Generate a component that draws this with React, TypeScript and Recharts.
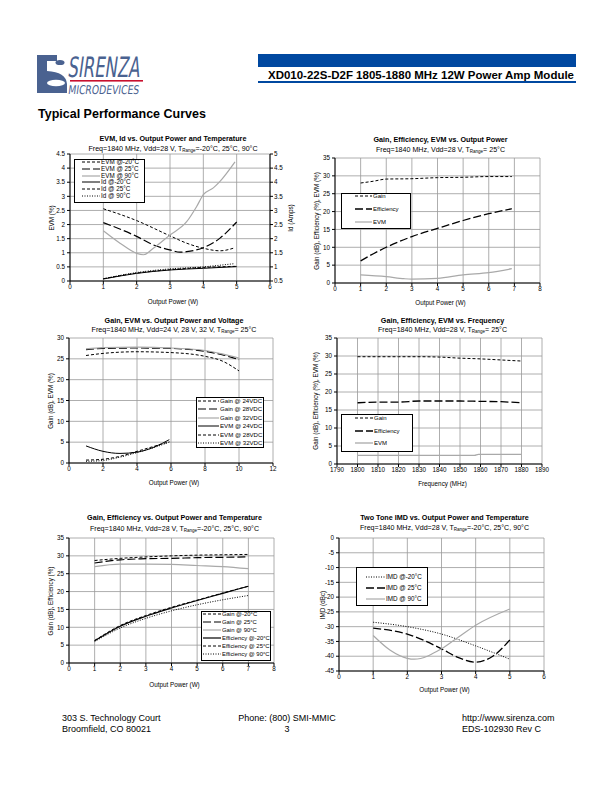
import { CartesianGrid, Line, LineChart, XAxis, YAxis } from "recharts";

const FONT = "'Liberation Sans', Arial, sans-serif";
const GRID = "#999999";
const GRAY = "#a9a9a9";

// ---- chart 1: EVM, Id vs output power and temperature ----
const evmM20X = [1, 2, 3, 3.5, 4, 4.5, 4.95];
const evmM20 = [2.56, 2.14, 1.6, 1.34, 1.16, 1.07, 1.18];
const evm25X = [1, 2, 2.5, 3, 3.3, 3.5, 4, 4.5, 5];
const evm25 = [2.07, 1.58, 1.28, 1.1, 1.02, 1.04, 1.18, 1.52, 2.09];
const evm90X = [1, 1.5, 2, 2.2, 2.5, 3, 3.5, 3.8, 4, 4.3, 4.5, 4.95];
const evm90 = [1.78, 1.34, 0.98, 0.93, 1.16, 1.63, 2.1, 2.64, 3.06, 3.3, 3.53, 4.22];
const idX = [1, 2, 3, 4, 5];
const idM20 = [0.57, 0.77, 0.89, 0.95, 1.01];
const id25 = [0.58, 0.78, 0.9, 0.98, 1.02];
const id90X = [1, 2, 3, 4, 4.5, 4.9];
const id90 = [0.58, 0.8, 0.93, 1.0, 1.06, 1.11];

// ---- chart 2: gain, efficiency, EVM vs output power ----
const p2X = [1, 1.5, 2, 3, 4, 5, 6, 6.9];
const p2Gain = [28, 28.5, 29.1, 29.2, 29.5, 29.6, 29.8, 29.8];
const p2Eff = [6.2, 8.2, 10, 13, 15.3, 17.5, 19.4, 20.8];
const p2EvmX = [1, 2, 2.7, 3, 4, 5, 6, 6.9];
const p2Evm = [2.3, 1.8, 1.2, 1.1, 1.3, 2.3, 2.9, 4];

// ---- chart 3: gain, EVM vs output power and voltage ----
const p3GainX = [1, 2, 4, 6, 8, 9, 10];
const gain24 = [25.8, 26.3, 26.7, 26.5, 25.6, 24.5, 22.1];
const gain28 = [27.2, 27.5, 27.6, 27.5, 26.8, 26, 24.8];
const gain32 = [27.4, 27.7, 27.8, 27.6, 27, 26.2, 25.2];
const p3EvmX = [1, 2, 3, 4, 5, 5.9];
const evm24 = [4.1, 2.8, 2.3, 2.6, 3.8, 5.6];
const evm28 = [0.7, 0.9, 1.6, 2.8, 4, 5.1];
const evm32 = [0.4, 0.6, 1.4, 2.5, 3.7, 5];

// ---- chart 4: gain, efficiency, EVM vs frequency ----
const freqX = [1800, 1810, 1820, 1830, 1840, 1850, 1860, 1870, 1880];
const p4Gain = [29.8, 29.8, 29.8, 29.8, 29.7, 29.4, 29.2, 28.9, 28.6];
const p4Eff = [17, 17.2, 17.2, 17.5, 17.5, 17.5, 17.4, 17.3, 17];
const p4EvmX = [1800, 1820, 1840, 1857, 1859, 1880];
const p4Evm = [2.4, 2.4, 2.4, 2.4, 2.7, 2.7];

// ---- chart 5: gain, efficiency vs output power and temperature ----
const p5X = [1, 2, 3, 4, 5, 6, 7];
const gainM20 = [28.7, 29.3, 29.7, 30, 30.2, 30.3, 30.4];
const gainT25 = [28, 28.9, 29.2, 29.3, 29.5, 29.6, 29.7];
const gainT90 = [27, 27.7, 27.7, 27.6, 27.3, 27, 26.4];
const effM20 = [6.2, 10.3, 13.1, 15.4, 17.5, 19.5, 21.5];
const effT25 = [6.3, 10.5, 13.3, 15.6, 17.6, 19.6, 21.5];
const effT90 = [6, 9.8, 12.5, 14.6, 16.3, 17.7, 18.9];

// ---- chart 6: two tone IMD ----
const imdM20X = [1, 2, 3, 4, 5];
const imdM20 = [-28.5, -30, -32.5, -36.5, -41];
const imd25X = [1, 2, 3, 3.5, 4, 4.5, 5];
const imd25 = [-30.5, -32.5, -37.5, -40.5, -42, -40, -34.5];
const imd90X = [1, 1.5, 2, 2.2, 3, 3.5, 4, 5];
const imd90 = [-33, -38, -40.7, -41, -37.5, -33.5, -29.5, -24];

const zip = (xs: number[], ys: number[]) => xs.map((x, i) => ({ x, y: ys[i] }));

const range = (a: number, b: number, s: number) => {
  const out: number[] = [];
  for (let v = a; v <= b + 1e-9; v += s) out.push(Math.round(v * 100) / 100);
  return out;
};

type Box = { x0: number; y0: number; x1: number; y1: number };
type Series = {
  name: string;
  xs: number[];
  ys: number[];
  stroke: string;
  dash?: string;
  width?: number;
  axis?: string;
};

const SHORT = "3 2";
const LONG = "8 3";
const DOT = "1 1.5";

function Legend({ x, y, w, h, rows, sample, textX, rowY, fs = 6 }: {
  x: number; y: number; w: number; h: number;
  rows: Series[]; sample: [number, number]; textX: number; rowY: number[]; fs?: number;
}) {
  return (
    <>
      <div style={{ position: "absolute", left: x, top: y, width: w, height: h, border: "1px solid #000", background: "#fff", boxSizing: "border-box", zIndex: 2 }} />
      <svg width={w} height={h} style={{ position: "absolute", left: x, top: y, overflow: "visible", zIndex: 3 }}>
        {rows.map((r, i) => (
          <g key={r.name}>
            <line x1={sample[0] - x} x2={sample[1] - x} y1={rowY[i] - y} y2={rowY[i] - y}
              stroke={r.stroke} strokeWidth={r.width ?? 1} strokeDasharray={r.dash} />
            <text x={textX - x} y={rowY[i] - y + 2} fontSize={fs} fontFamily={FONT}>{r.name}</text>
          </g>
        ))}
      </svg>
    </>
  );
}

function Panel({ box, xDomain, xTicks, yDomain, yTicks, y2Domain, y2Ticks, series, title, sub, xLabel, yLabel, y2Label, titleY, subY, xLabelY, yLabelX }: {
  box: Box; xDomain: [number, number]; xTicks: number[]; yDomain: [number, number]; yTicks: number[];
  y2Domain?: [number, number]; y2Ticks?: number[]; series: Series[];
  title: string; sub: React.ReactNode; xLabel: string; yLabel: string; y2Label?: string;
  titleY: number; subY: number; xLabelY: number; yLabelX: number;
}) {
  const LW = 28;
  const RW = y2Domain ? 24 : 12;
  const BH = 14;
  const TOP = 4;
  const cx = (box.x0 + box.x1) / 2 + 3;
  const cy = (box.y0 + box.y1) / 2;
  const tick = { fill: "#000", fontSize: 6.3, fontFamily: FONT };
  return (
    <>
      <div style={{ position: "absolute", left: cx - 150, width: 300, top: titleY - 5, textAlign: "center", fontSize: 7.2, fontWeight: "bold", lineHeight: "10px", whiteSpace: "nowrap" }}>{title}</div>
      <div style={{ position: "absolute", left: cx - 150, width: 300, top: subY - 5, textAlign: "center", fontSize: 7.1, lineHeight: "10px", whiteSpace: "nowrap" }}>{sub}</div>
      <div style={{ position: "absolute", left: box.x0 - LW, top: box.y0 - TOP }}>
        <LineChart width={box.x1 - box.x0 + LW + RW} height={box.y1 - box.y0 + TOP + BH}
          margin={{ top: TOP, right: y2Domain ? 0 : RW, left: 0, bottom: 0 }}>
          <CartesianGrid stroke={GRID} strokeWidth={0.8} horizontalValues={yTicks} verticalValues={xTicks} yAxisId="left" />
          <XAxis dataKey="x" type="number" domain={xDomain} ticks={xTicks} interval={0} height={BH}
            tick={tick} tickSize={3} tickMargin={1} axisLine={{ stroke: "#000" }} tickLine={{ stroke: "#000" }} allowDataOverflow />
          <YAxis yAxisId="left" type="number" domain={yDomain} ticks={yTicks} interval={0} width={LW}
            tick={tick} tickSize={3} tickMargin={2} axisLine={{ stroke: "#000" }} tickLine={{ stroke: "#000" }} allowDataOverflow />
          {y2Domain && (
            <YAxis yAxisId="right" orientation="right" type="number" domain={y2Domain} ticks={y2Ticks} interval={0} width={RW}
              tick={tick} tickSize={3} tickMargin={1} axisLine={{ stroke: "#000" }} tickLine={{ stroke: "#000" }} allowDataOverflow />
          )}
          {series.map((s) => (
            <Line key={s.name} data={zip(s.xs, s.ys)} dataKey="y" name={s.name} yAxisId={s.axis ?? "left"}
              type="monotone" stroke={s.stroke} strokeWidth={s.width ?? 1} strokeDasharray={s.dash}
              dot={false} activeDot={false} isAnimationActive={false} />
          ))}
        </LineChart>
      </div>
      <div style={{ position: "absolute", left: cx - 60, width: 120, top: xLabelY - 4, textAlign: "center", fontSize: 6.3, lineHeight: "8px" }}>{xLabel}</div>
      <div style={{ position: "absolute", left: yLabelX - 100, top: cy - 4, width: 200, textAlign: "center", fontSize: 6.3, lineHeight: "8px", transform: "rotate(-90deg)", whiteSpace: "nowrap" }}>{yLabel}</div>
      {y2Label && (
        <div style={{ position: "absolute", left: box.x1 + 21 - 100, top: cy - 4, width: 200, textAlign: "center", fontSize: 6.3, lineHeight: "8px", transform: "rotate(-90deg)", whiteSpace: "nowrap" }}>{y2Label}</div>
      )}
    </>
  );
}

const Sub = ({ pre, post }: { pre: string; post: string }) => (
  <span>{pre}T<sub style={{ fontSize: 4.5, verticalAlign: "-1px" }}>Range</sub>{post}</span>
);

const LOGO = "#4a6290";

export default function App() {
  const s1: Series[] = [
    { name: "EVM @-20°C", xs: evmM20X, ys: evmM20, stroke: "#000", dash: SHORT },
    { name: "EVM @ 25°C", xs: evm25X, ys: evm25, stroke: "#000", dash: LONG, width: 1.2 },
    { name: "EVM @ 90°C", xs: evm90X, ys: evm90, stroke: GRAY, width: 1.2 },
    { name: "Id @-20°C", xs: idX, ys: idM20, stroke: "#000", axis: "right" },
    { name: "Id @ 25°C", xs: idX, ys: id25, stroke: "#000", dash: SHORT, axis: "right" },
    { name: "Id @ 90°C", xs: id90X, ys: id90, stroke: "#000", dash: DOT, axis: "right" },
  ];
  const s2: Series[] = [
    { name: "Gain", xs: p2X, ys: p2Gain, stroke: "#000", dash: SHORT },
    { name: "Efficiency", xs: p2X, ys: p2Eff, stroke: "#000", dash: LONG, width: 1.3 },
    { name: "EVM", xs: p2EvmX, ys: p2Evm, stroke: GRAY, width: 1.2 },
  ];
  const s3: Series[] = [
    { name: "Gain @ 24VDC", xs: p3GainX, ys: gain24, stroke: "#000", dash: SHORT },
    { name: "Gain @ 28VDC", xs: p3GainX, ys: gain28, stroke: "#000", dash: LONG, width: 1.2 },
    { name: "Gain @ 32VDC", xs: p3GainX, ys: gain32, stroke: GRAY, width: 1.2 },
    { name: "EVM @ 24VDC", xs: p3EvmX, ys: evm24, stroke: "#000" },
    { name: "EVM @ 28VDC", xs: p3EvmX, ys: evm28, stroke: "#000", dash: SHORT },
    { name: "EVM @ 32VDC", xs: p3EvmX, ys: evm32, stroke: "#000", dash: DOT },
  ];
  const s4: Series[] = [
    { name: "Gain", xs: freqX, ys: p4Gain, stroke: "#000", dash: SHORT },
    { name: "Efficiency", xs: freqX, ys: p4Eff, stroke: "#000", dash: LONG, width: 1.3 },
    { name: "EVM", xs: p4EvmX, ys: p4Evm, stroke: GRAY, width: 1.3 },
  ];
  const s5: Series[] = [
    { name: "Gain @-20°C", xs: p5X, ys: gainM20, stroke: "#000", dash: SHORT },
    { name: "Gain @ 25°C", xs: p5X, ys: gainT25, stroke: "#000", dash: LONG, width: 1.2 },
    { name: "Gain @ 90°C", xs: p5X, ys: gainT90, stroke: GRAY, width: 1.2 },
    { name: "Efficiency @-20°C", xs: p5X, ys: effM20, stroke: "#000", width: 1.2 },
    { name: "Efficiency @ 25°C", xs: p5X, ys: effT25, stroke: "#000", dash: SHORT },
    { name: "Efficiency @ 90°C", xs: p5X, ys: effT90, stroke: "#000", dash: DOT },
  ];
  const s6: Series[] = [
    { name: "IMD @-20°C", xs: imdM20X, ys: imdM20, stroke: "#000", dash: DOT },
    { name: "IMD @ 25°C", xs: imd25X, ys: imd25, stroke: "#000", dash: LONG, width: 1.3 },
    { name: "IMD @ 90°C", xs: imd90X, ys: imd90, stroke: GRAY, width: 1.2 },
  ];

  return (
    <div style={{ position: "absolute", left: 0, top: 0, width: 612, height: 792, background: "#fff", fontFamily: FONT, color: "#000", overflow: "hidden" }}>
      {/* header */}
      <svg width={612} height={130} style={{ position: "absolute", left: 0, top: 0 }}>
        <path d="M37 55 H57 V61 H47 V71 Q66 72 67 84 V93 H37 Z" fill={LOGO} />
        <ellipse cx={56} cy={83} rx={9} ry={3.2} fill="#fff" />
        <ellipse cx={60} cy={62.5} rx={4.5} ry={2.6} fill={LOGO} />
        <g transform="translate(68 0) skewX(-8)">
          <text x={10} y={77} fontSize={28} fontFamily="'Liberation Sans Narrow', 'DejaVu Sans Condensed', sans-serif" fill={LOGO} textLength={72} lengthAdjust="spacingAndGlyphs">SIRENZA</text>
          <text x={13} y={94.5} fontSize={12} fontFamily="'Liberation Sans Narrow', 'DejaVu Sans Condensed', sans-serif" fill={LOGO} textLength={71} lengthAdjust="spacingAndGlyphs">MICRODEVICES</text>
        </g>
        <rect x={70} y={80} width={73} height={1.6} fill="#c8102e" />
        <rect x={258} y={54} width={318} height={13} fill="#0048a0" />
        <text x={574} y={79} textAnchor="end" fontSize={10} fontWeight="bold" fontFamily={FONT} textLength={306} lengthAdjust="spacingAndGlyphs">XD010-22S-D2F 1805-1880 MHz 12W Power Amp Module</text>
        <rect x={258} y={81} width={318} height={2} fill="#0048a0" />
        <text x={38} y={118} fontSize={12.5} fontWeight="bold" fontFamily={FONT}>Typical Performance Curves</text>
      </svg>

      <Panel box={{ x0: 70, y0: 154, x1: 270, y1: 281 }} xDomain={[0, 6]} xTicks={range(0, 6, 1)}
        yDomain={[0, 4.5]} yTicks={range(0, 4.5, 0.5)} y2Domain={[0.5, 5]} y2Ticks={range(0.5, 5, 0.5)}
        series={s1} title="EVM, Id vs. Output Power and Temperature"
        sub={<Sub pre="Freq=1840 MHz, Vdd=28 V, " post="=-20°C, 25°C, 90°C" />}
        xLabel="Output Power (W)" yLabel="EVM (%)" y2Label="Id (Amps)"
        titleY={139} subY={149} xLabelY={302} yLabelX={52} />
      <Legend x={74} y={159} w={71} h={44} rows={s1} sample={[82, 100]} textX={101} rowY={[162, 169, 176, 182, 189, 196]} fs={6.3} />

      <Panel box={{ x0: 335, y0: 158, x1: 540, y1: 283 }} xDomain={[0, 8]} xTicks={range(0, 8, 1)}
        yDomain={[0, 35]} yTicks={range(0, 35, 5)} series={s2}
        title="Gain, Efficiency, EVM vs. Output Power"
        sub={<Sub pre="Freq=1840 MHz, Vdd=28 V, " post="= 25°C" />}
        xLabel="Output Power (W)" yLabel="Gain (dB), Efficiency (%), EVM (%)"
        titleY={140} subY={150} xLabelY={303} yLabelX={317} />
      <Legend x={341} y={193} w={70} h={36} rows={s2} sample={[355, 372]} textX={373} rowY={[196, 209, 222]} />

      <Panel box={{ x0: 69, y0: 338, x1: 273, y1: 463 }} xDomain={[0, 12]} xTicks={range(0, 12, 2)}
        yDomain={[0, 30]} yTicks={range(0, 30, 5)} series={s3}
        title="Gain, EVM vs. Output Power and Voltage"
        sub={<Sub pre="Freq=1840 MHz, Vdd=24 V, 28 V, 32 V, " post="= 25°C" />}
        xLabel="Output Power (W)" yLabel="Gain (dB), EVM (%)"
        titleY={321} subY={330} xLabelY={483} yLabelX={51} />
      <Legend x={196} y={397} w={68} h={51} rows={s3} sample={[198, 219]} textX={220} rowY={[401, 409, 418, 426, 435, 443]} fs={6.1} />

      <Panel box={{ x0: 337, y0: 338, x1: 542, y1: 464 }} xDomain={[1790, 1890]} xTicks={range(1790, 1890, 10)}
        yDomain={[0, 35]} yTicks={range(0, 35, 5)} series={s4}
        title="Gain, Efficiency, EVM vs. Frequency"
        sub={<Sub pre="Freq=1840 MHz, Vdd=28 V, " post="= 25°C" />}
        xLabel="Frequency (MHz)" yLabel="Gain (dB), Efficiency (%), EVM (%)"
        titleY={321} subY={330} xLabelY={484} yLabelX={316} />
      <Legend x={341} y={414} w={72} h={38} rows={s4} sample={[355, 373]} textX={374} rowY={[418, 431, 443]} />

      <Panel box={{ x0: 69, y0: 538, x1: 274, y1: 663 }} xDomain={[0, 8]} xTicks={range(0, 8, 1)}
        yDomain={[0, 35]} yTicks={range(0, 35, 5)} series={s5}
        title="Gain, Efficiency vs. Output Power and Temperature"
        sub={<Sub pre="Freq=1840 MHz, Vdd=28 V, " post="=-20°C, 25°C, 90°C" />}
        xLabel="Output Power (W)" yLabel="Gain (dB), Efficiency (%)"
        titleY={518} subY={529} xLabelY={685} yLabelX={51} />
      <Legend x={201} y={611} w={70} h={50} rows={s5} sample={[203, 221]} textX={222} rowY={[614, 622, 630, 638, 646, 654]} fs={5.9} />

      <Panel box={{ x0: 339, y0: 538, x1: 544, y1: 671 }} xDomain={[0, 6]} xTicks={range(0, 6, 1)}
        yDomain={[-45, 0]} yTicks={range(-45, 0, 5)} series={s6}
        title="Two Tone IMD vs. Output Power and Temperature"
        sub={<Sub pre="Freq=1840 MHz, Vdd=28 V, " post="=-20°C, 25°C, 90°C" />}
        xLabel="Output Power (W)" yLabel="IMD (dBc)"
        titleY={518} subY={528} xLabelY={690} yLabelX={323} />
      <Legend x={356} y={567} w={72} h={39} rows={s6} sample={[366, 385]} textX={386} rowY={[577, 588, 599]} fs={6.3} />

      {/* footer */}
      <div style={{ position: "absolute", left: 62, top: 713, fontSize: 9, lineHeight: "11px" }}>303 S. Technology Court<br />Broomfield, CO 80021</div>
      <div style={{ position: "absolute", left: 187, width: 200, top: 713, fontSize: 9, lineHeight: "11px", textAlign: "center" }}>Phone: (800) SMI-MMIC<br />3</div>
      <div style={{ position: "absolute", left: 462, top: 713, fontSize: 9, lineHeight: "11px" }}>http://www.sirenza.com<br />EDS-102930 Rev C</div>
    </div>
  );
}
